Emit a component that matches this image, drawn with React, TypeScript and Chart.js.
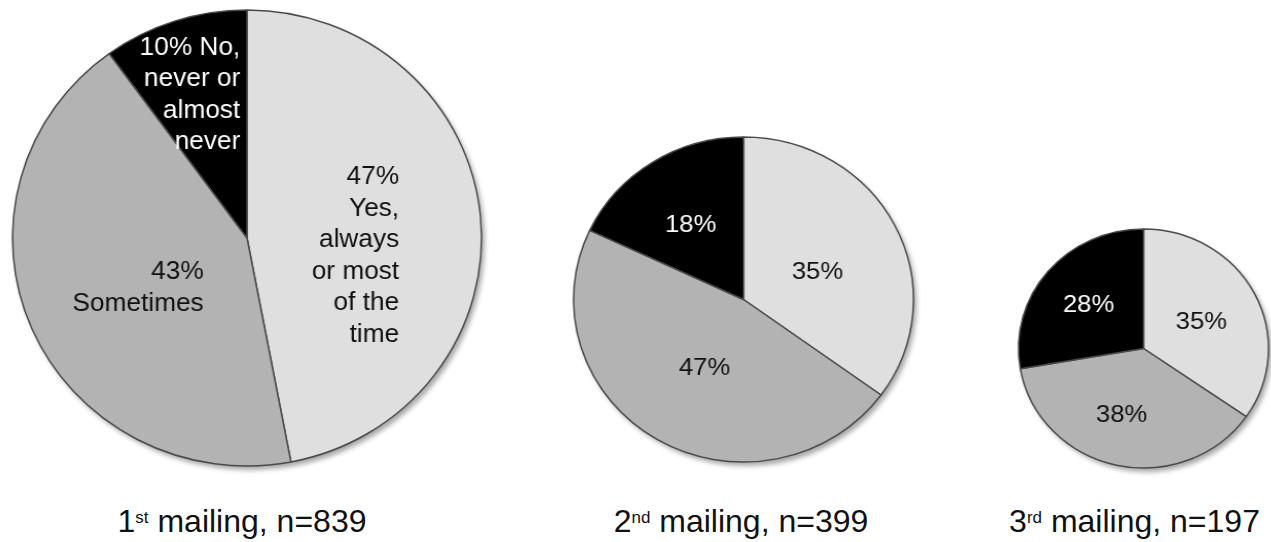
import { useEffect, useRef } from 'react';
import { Chart, registerables } from 'chart.js';

Chart.register(...registerables);

// Answer categories, in clockwise order starting at 12 o'clock
const categories = ['Yes, always or most of the time', 'Sometimes', 'No, never or almost never'];
const categoryLines = [
  ['Yes,', 'always', 'or most', 'of the', 'time'],
  ['Sometimes'],
  ['No,', 'never or', 'almost', 'never'],
];
const sliceColors = ['#dfdfdf', '#b3b3b3', '#000000'];
const labelColors = ['#111111', '#111111', '#ffffff'];

// Percentages per mailing wave
const firstMailing = [47, 43, 10];
const secondMailing = [35, 47, 18];
const thirdMailing = [35, 38, 28];

// Caption parts
const ordinals = ['1', '2', '3'];
const ordinalSuffixes = ['st', 'nd', 'rd'];
const sampleSizes = [839, 399, 197];

const FONT = '"Liberation Sans", Arial, Helvetica, sans-serif';

type Placement = { r: number; turn: number; align: 'left' | 'center' | 'right' };
type PieSpec = {
  values: number[];
  cx: number;
  cy: number;
  radius: number;
  stretch: number;
  fontSize: number;
  lineHeight: number;
  showCategories: boolean;
  inlinePercent: boolean[];
  placement: Placement[];
  captionCenter: number;
};

const pies: PieSpec[] = [
  {
    values: firstMailing,
    cx: 246.5,
    cy: 238,
    radius: 228,
    stretch: 1.0285,
    fontSize: 25.5,
    lineHeight: 31.5,
    showCategories: true,
    inlinePercent: [false, false, true],
    placement: [
      { r: 0.469, turn: 15.1, align: 'right' },
      { r: 0.514, turn: -1.9, align: 'right' },
      { r: 0.673, turn: -3.2, align: 'right' },
    ],
    captionCenter: 242,
  },
  {
    values: secondMailing,
    cx: 743,
    cy: 299.5,
    radius: 162.5,
    stretch: 1.046,
    fontSize: 24.5,
    lineHeight: 30,
    showCategories: false,
    inlinePercent: [false, false, false],
    placement: [
      { r: 0.467, turn: 5.7, align: 'center' },
      { r: 0.48, turn: -2, align: 'center' },
      { r: 0.554, turn: -1.8, align: 'center' },
    ],
    captionCenter: 741,
  },
  {
    values: thirdMailing,
    cx: 1143,
    cy: 348.5,
    radius: 119.5,
    stretch: 1.046,
    fontSize: 24.5,
    lineHeight: 30,
    showCategories: false,
    inlinePercent: [false, false, false],
    placement: [
      { r: 0.514, turn: 2, align: 'center' },
      { r: 0.583, turn: 5, align: 'center' },
      { r: 0.571, turn: -0.5, align: 'center' },
    ],
    captionCenter: 1134.5,
  },
];

const PAD = 12;

function labelLines(spec: PieSpec, i: number): string[] {
  const pct = `${spec.values[i]}%`;
  if (!spec.showCategories) return [pct];
  const lines = categoryLines[i];
  if (spec.inlinePercent[i]) return [`${pct} ${lines[0]}`, ...lines.slice(1)];
  return [pct, ...lines];
}

// Soft drop shadow behind the whole pie
const shadowPlugin = {
  id: 'pieShadow',
  beforeDatasetsDraw(chart: any) {
    const arc = chart.getDatasetMeta(0).data[0];
    if (!arc) return;
    const { x, y, outerRadius } = arc.getProps(['x', 'y', 'outerRadius'], true);
    const ctx = chart.ctx;
    ctx.save();
    ctx.shadowColor = 'rgba(0,0,0,0.35)';
    ctx.shadowBlur = 5;
    ctx.shadowOffsetX = 3;
    ctx.shadowOffsetY = 4;
    ctx.fillStyle = '#ffffff';
    ctx.beginPath();
    ctx.arc(x, y, outerRadius, 0, Math.PI * 2);
    ctx.fill();
    ctx.restore();
  },
};

function sliceLabelPlugin(spec: PieSpec) {
  return {
    id: 'sliceLabels',
    afterDatasetsDraw(chart: any) {
      const meta = chart.getDatasetMeta(0);
      const ctx = chart.ctx;
      ctx.save();
      ctx.font = `${spec.fontSize}px ${FONT}`;
      ctx.textBaseline = 'middle';
      meta.data.forEach((el: any, i: number) => {
        const { x, y, startAngle, endAngle, outerRadius } = el.getProps(
          ['x', 'y', 'startAngle', 'endAngle', 'outerRadius'],
          true
        );
        const p = spec.placement[i];
        const a = (startAngle + endAngle) / 2 + (p.turn * Math.PI) / 180;
        const bx = x + Math.cos(a) * p.r * outerRadius;
        const by = y + Math.sin(a) * p.r * outerRadius;
        const lines = labelLines(spec, i);
        const w = Math.max(...lines.map((l) => ctx.measureText(l).width));
        const top = by - ((lines.length - 1) * spec.lineHeight) / 2;
        const tx = p.align === 'right' ? bx + w / 2 : p.align === 'left' ? bx - w / 2 : bx;
        ctx.fillStyle = labelColors[i];
        ctx.textAlign = p.align;
        lines.forEach((l, k) => ctx.fillText(l, tx, top + k * spec.lineHeight));
      });
      ctx.restore();
    },
  };
}

function PieCanvas({ spec }: { spec: PieSpec }) {
  const ref = useRef<HTMLCanvasElement>(null);
  const size = Math.ceil(spec.radius * 2 + PAD * 2);

  useEffect(() => {
    const canvas = ref.current;
    if (!canvas) return;
    const chart = new Chart(canvas, {
      type: 'pie',
      data: {
        labels: categories,
        datasets: [
          {
            data: spec.values,
            backgroundColor: sliceColors,
            borderColor: '#4a4a4a',
            borderWidth: 1.5,
            radius: spec.radius,
          } as any,
        ],
      },
      options: {
        responsive: false,
        animation: false,
        events: [],
        layout: { padding: 0 },
        plugins: {
          legend: { display: false },
          tooltip: { enabled: false },
        },
      },
      plugins: [shadowPlugin, sliceLabelPlugin(spec)],
    });
    return () => chart.destroy();
  }, [spec]);

  return (
    <canvas
      ref={ref}
      width={size}
      height={size}
      style={{
        position: 'absolute',
        left: spec.cx - size / 2,
        top: spec.cy - size / 2,
        width: size,
        height: size,
        transform: `scaleX(${spec.stretch})`,
        transformOrigin: '50% 50%',
      }}
    />
  );
}

export default function App() {
  return (
    <div
      style={{
        position: 'absolute',
        left: 0,
        top: 0,
        width: 1271,
        height: 542,
        background: '#ffffff',
        overflow: 'hidden',
        fontFamily: FONT,
      }}
    >
      {pies.map((spec, i) => (
        <PieCanvas key={i} spec={spec} />
      ))}
      {pies.map((spec, i) => (
        <div
          key={`cap${i}`}
          style={{
            position: 'absolute',
            left: spec.captionCenter - 250,
            top: 505.4,
            width: 500,
            textAlign: 'center',
            fontSize: 32,
            lineHeight: '32px',
            color: '#111111',
            whiteSpace: 'nowrap',
          }}
        >
          {ordinals[i]}
          <span style={{ fontSize: 17, position: 'relative', top: -9 }}>{ordinalSuffixes[i]}</span>
          {` mailing, n=${sampleSizes[i]}`}
        </div>
      ))}
    </div>
  );
}
